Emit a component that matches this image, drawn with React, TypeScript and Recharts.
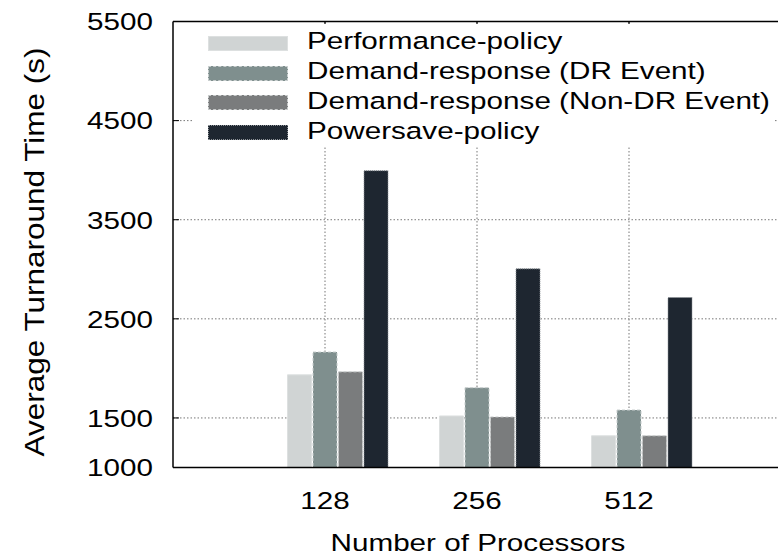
import React from 'react';
import { BarChart, Bar, XAxis, YAxis, CartesianGrid, ReferenceLine } from 'recharts';

// values
const processors = ['128', '256', '512'];
const performancePolicy = [1935, 1520, 1320];
const drEvent = [2165, 1805, 1580];
const nonDrEvent = [1965, 1510, 1320];
const powersavePolicy = [3995, 3005, 2715];
const yTicks = [1000, 1500, 2500, 3500, 4500, 5500];

const seriesNames = [
  'Performance-policy',
  'Demand-response (DR Event)',
  'Demand-response (Non-DR Event)',
  'Powersave-policy',
];
const seriesKeys = ['perf', 'dr', 'nondr', 'power'];
const seriesColors = ['#d0d4d4', '#7f8f8e', '#7a7c7d', '#1e2630'];
const seriesStrokes = ['#dde0e0', '#c8cece', '#c8cbcb', '#8c9196'];
const seriesDashes = ['', '3 2', '3 2', '1 1'];

const data = processors.map((p, i) => ({
  procs: p,
  perf: performancePolicy[i],
  dr: drEvent[i],
  nondr: nonDrEvent[i],
  power: powersavePolicy[i],
}));

const FONT = '"Liberation Sans", Arial, Helvetica, sans-serif';
const FS = 24.5;
const SX = 1.21; // the original text is stretched sideways
const Y_TOP = yTicks[yTicks.length - 1];
const TOP_TICK = 60; // inward tick length on the top border, in data units

function YTick(props: any) {
  const { x, y, payload } = props;
  return (
    <g>
      <line x1={x} x2={x + 6} y1={y} y2={y} stroke="#000" strokeWidth={1} />
      {Number(payload.value) === Y_TOP && (
        // top border of the frame
        <rect x={x} y={y - 0.75} width={640} height={1.5} fill="#000" />
      )}
      <text
        transform={`translate(${x - 20},${y}) scale(${SX},1)`}
        textAnchor="end"
        dy="0.36em"
        fontFamily={FONT}
        fontSize={FS}
        fill="#000"
      >
        {payload.value}
      </text>
    </g>
  );
}

function XTick(props: any) {
  const { x, y, payload } = props;
  return (
    <text
      transform={`translate(${x},${y + 41.5}) scale(${SX},1)`}
      textAnchor="middle"
      fontFamily={FONT}
      fontSize={FS}
      fill="#000"
    >
      {payload.value}
    </text>
  );
}

// vertical grid lines through the category centres
const verticalGrid = ({ xAxis }: any) => {
  const s = xAxis && xAxis.scale;
  if (!s) return [];
  let f: ((v: string) => number) | null = null;
  if (typeof s === 'function') f = (v) => s(v);
  else if (typeof s.map === 'function') f = (v) => s.map(v);
  else if (typeof s.apply === 'function') f = (v) => s.apply(v);
  if (!f) return [];
  const bw = typeof s.bandwidth === 'function' ? s.bandwidth() : 0;
  return processors
    .map((p) => (f as any)(p) + bw / 2)
    .filter((v) => Number.isFinite(v));
};

function ChartLegend() {
  return (
    <div
      style={{
        position: 'absolute',
        left: 192,
        top: 24,
        width: 583,
        height: 123,
        background: '#fff',
      }}
    >
      {seriesNames.map((name, i) => (
        <div
          key={name}
          style={{
            position: 'absolute',
            left: 0,
            top: 11.7 + i * 29.8,
            height: 15,
            width: 583,
          }}
        >
          <div
            style={{
              position: 'absolute',
              left: 16,
              top: 0,
              width: 80,
              height: 15,
              boxSizing: 'border-box',
              background: seriesColors[i],
              border: `1px ${seriesDashes[i] === '1 1' ? 'dotted' : seriesDashes[i] ? 'dashed' : 'solid'} ${seriesStrokes[i]}`,
            }}
          />
          <div
            style={{
              position: 'absolute',
              left: 114.7,
              top: 7.5 - FS / 2 - 1.5,
              fontFamily: FONT,
              fontSize: FS,
              lineHeight: `${FS}px`,
              whiteSpace: 'nowrap',
              transform: `scaleX(${SX})`,
              transformOrigin: 'left center',
              color: '#000',
            }}
          >
            {name}
          </div>
        </div>
      ))}
    </div>
  );
}

export default function App() {
  return (
    <div
      style={{
        position: 'absolute',
        left: 0,
        top: 0,
        width: 778,
        height: 555,
        overflow: 'hidden',
        background: '#fff',
      }}
    >
      <BarChart
        width={800}
        height={555}
        data={data}
        margin={{ top: 21.5, right: 19, bottom: 86.5, left: 0 }}
        barSize={24}
        barGap={1.5}
      >
        <CartesianGrid
          stroke="#777"
          strokeDasharray="1.5 2"
          verticalCoordinatesGenerator={verticalGrid}
        />
        <XAxis
          dataKey="procs"
          height={1}
          padding={{ left: 76, right: 76 }}
          axisLine={{ stroke: '#000', strokeWidth: 1.5 }}
          tickLine={false}
          tickSize={0}
          tickMargin={0}
          tick={<XTick />}
          interval={0}
        />
        <YAxis
          type="number"
          domain={[1000, 5500]}
          ticks={yTicks}
          width={173}
          allowDataOverflow
          axisLine={{ stroke: '#000', strokeWidth: 1.5 }}
          tickLine={false}
          tickSize={0}
          tickMargin={0}
          tick={<YTick />}
          interval={0}
        />
        <Bar dataKey="pad" fill="none" legendType="none" isAnimationActive={false} />
        {seriesKeys.map((k, i) => (
          <Bar
            key={k}
            dataKey={k}
            name={seriesNames[i]}
            fill={seriesColors[i]}
            stroke={seriesStrokes[i]}
            strokeWidth={1}
            strokeDasharray={seriesDashes[i] || undefined}
            isAnimationActive={false}
          />
        ))}
        {processors.map((p) => (
          <ReferenceLine
            key={`tt-${p}`}
            segment={[
              { x: p, y: Y_TOP },
              { x: p, y: Y_TOP - TOP_TICK },
            ]}
            ifOverflow="visible"
            stroke="#000"
            strokeWidth={1.2}
          />
        ))}
      </BarChart>
      <ChartLegend />
      {/* top edge of the frame */}
      <div
        style={{
          position: 'absolute',
          left: 173,
          top: 20.75,
          width: 605,
          height: 1.5,
          background: '#000',
        }}
      />
      <div
        style={{
          position: 'absolute',
          left: 35,
          top: 251.5,
          fontFamily: FONT,
          fontSize: 31.5,
          lineHeight: 1,
          whiteSpace: 'nowrap',
          transform: 'translate(-50%, -50%) rotate(-90deg) scaleY(0.88)',
          color: '#000',
        }}
      >
        Average Turnaround Time (s)
      </div>
      <div
        style={{
          position: 'absolute',
          left: 477.5,
          top: 531.3,
          fontFamily: FONT,
          fontSize: FS,
          lineHeight: 1,
          whiteSpace: 'nowrap',
          transform: `translateX(-50%) scaleX(${SX})`,
          color: '#000',
        }}
      >
        Number of Processors
      </div>
    </div>
  );
}
